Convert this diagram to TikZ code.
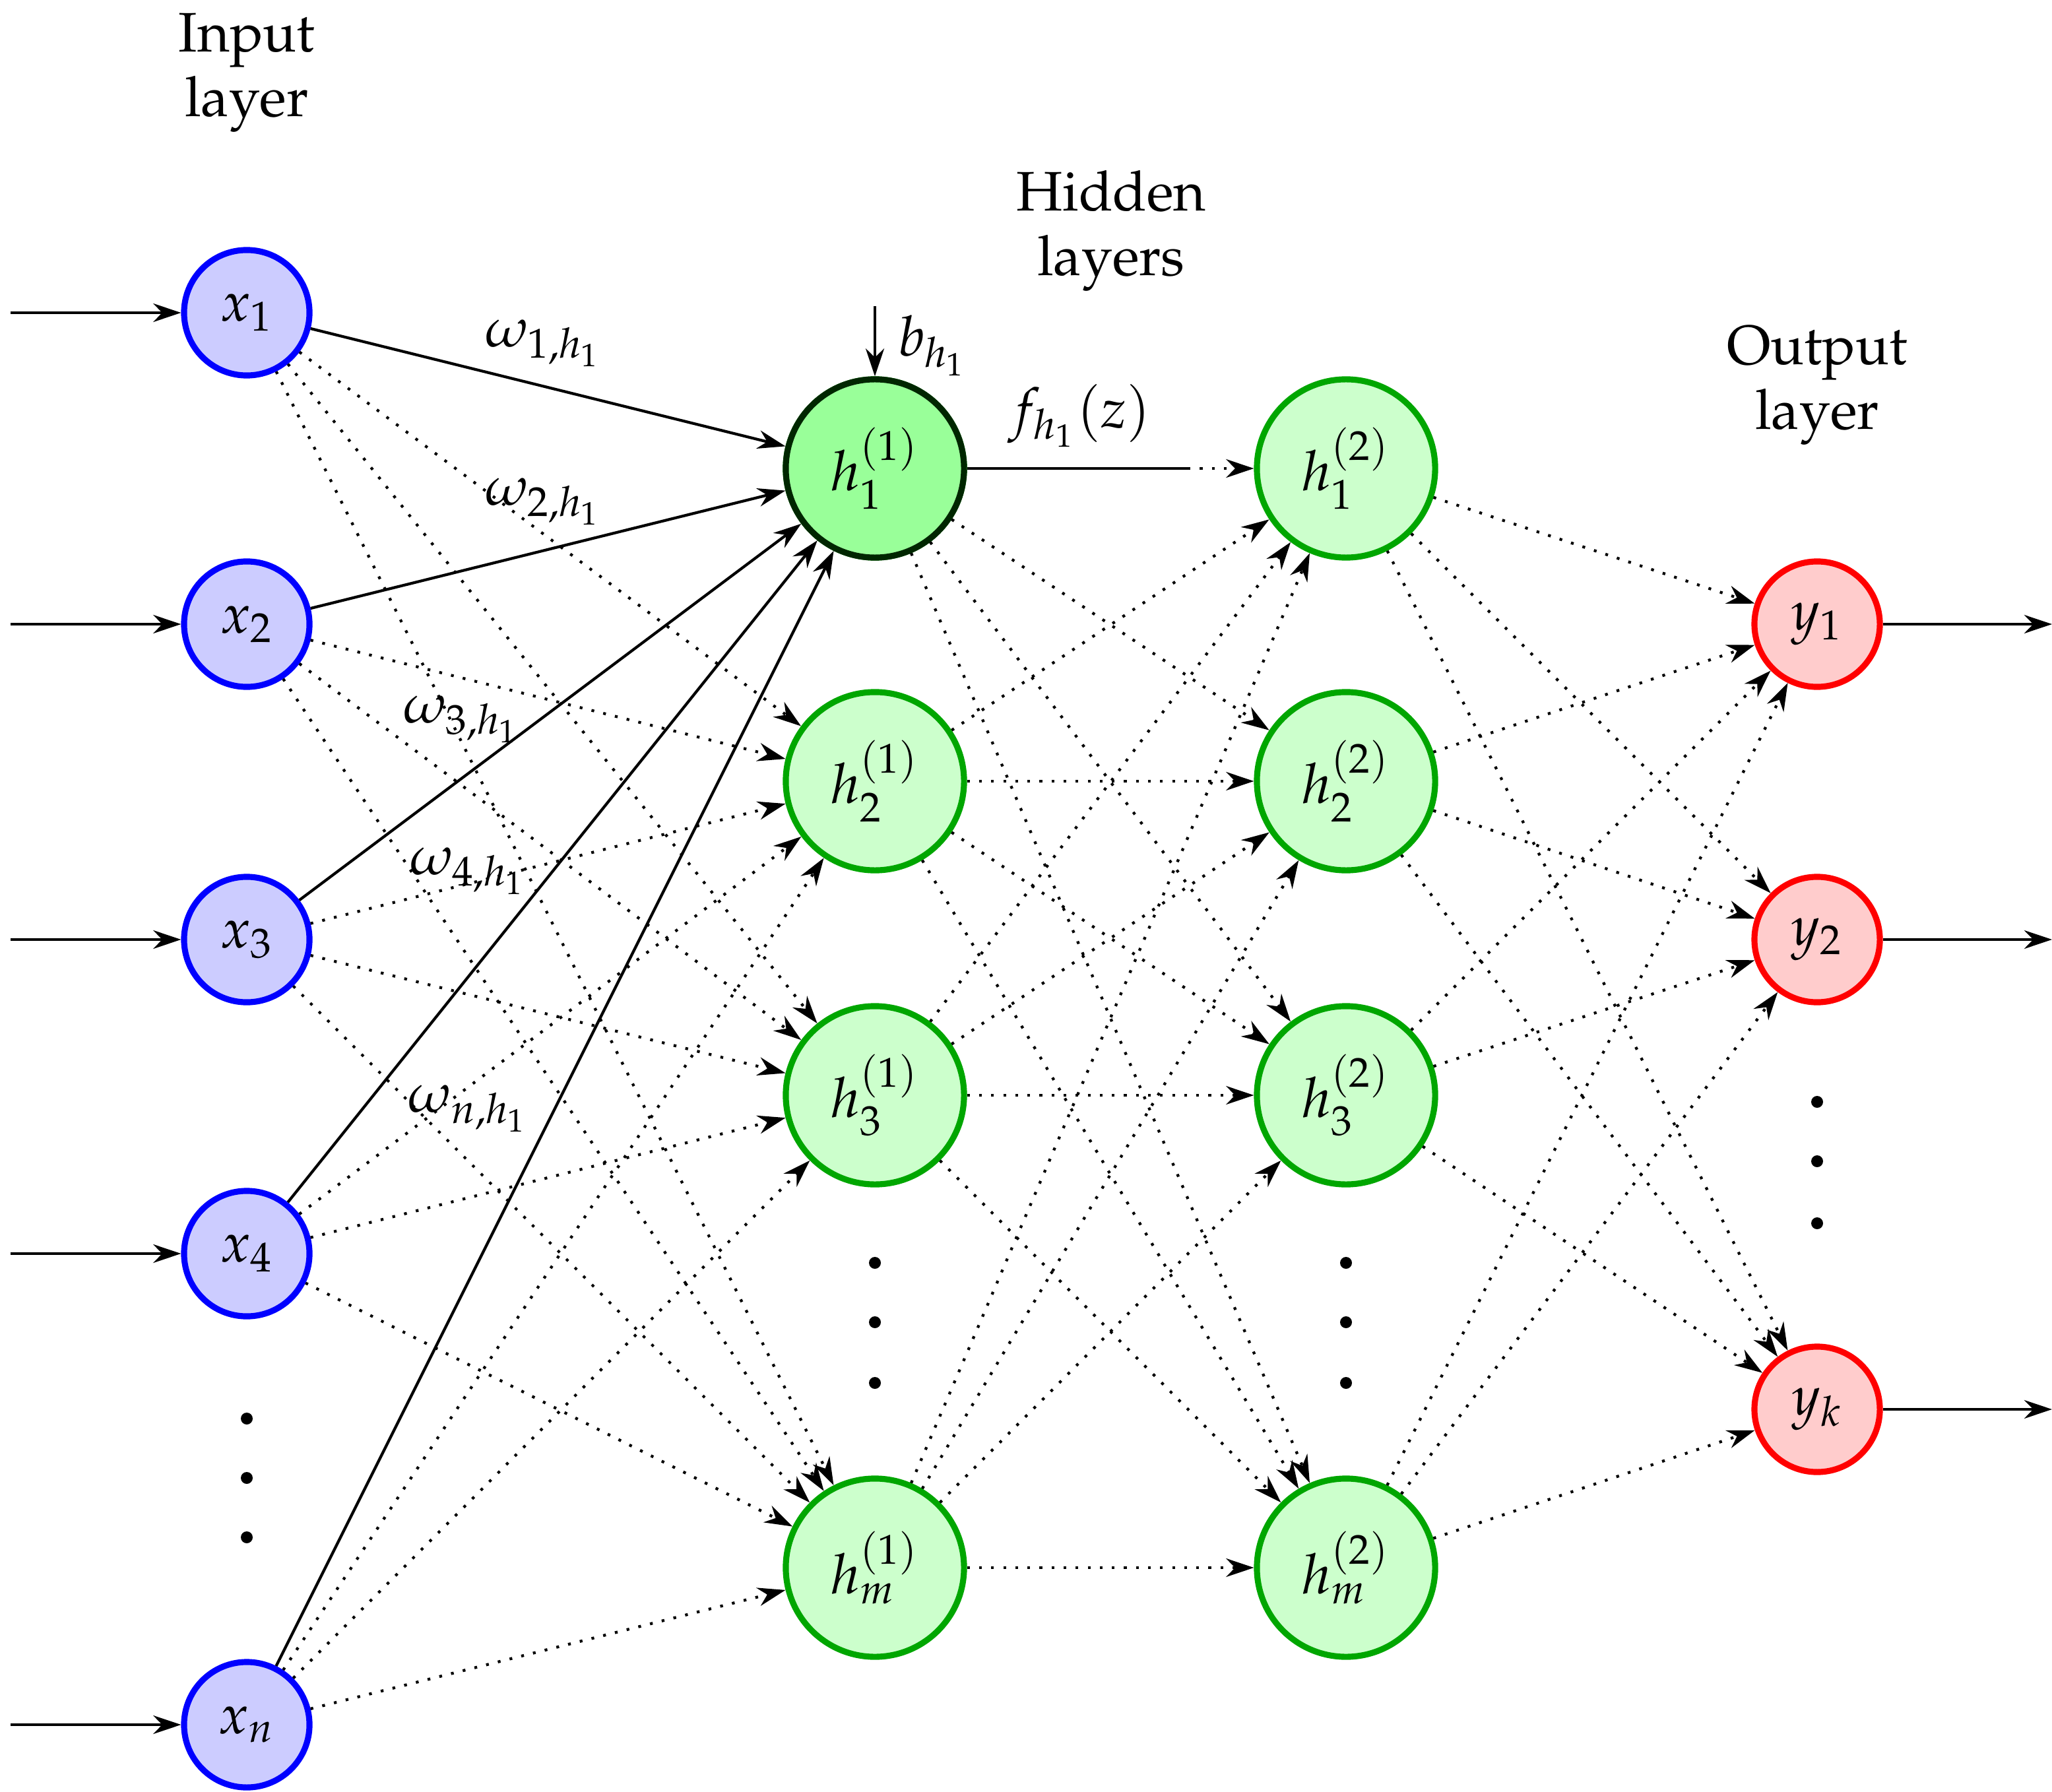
\documentclass[tikz,border=0pt]{standalone}
\usepackage[T1]{fontenc}
\usepackage{mathpazo}
\usetikzlibrary{arrows.meta}
\tikzset{
	neuron/.style={circle,line width=1.3pt,inner sep=0pt,font=\large},
	inp/.style={neuron,draw=blue,fill=blue!20,minimum size=0.95cm},
	hid/.style={neuron,draw=green!65!black,fill=green!20,minimum size=1.35cm},
	outp/.style={neuron,draw=red,fill=red!20,minimum size=0.95cm},
	conn/.style={-{Stealth[length=6pt,width=4pt]},semithick},
	dconn/.style={conn,dotted},
	lbl/.style={align=center,font=\large}
}
\begin{document}
\begin{tikzpicture}[x=0.01cm,y=-0.01cm]
	\useasboundingbox (0,0) rectangle (1555,1358);
	% layer titles
		\node[lbl] (tin) at (187,55) {Input\\layer};
		\node[lbl] (thid) at (842,175) {Hidden\\layers};
		\node[lbl] (tout) at (1377,292) {Output\\layer};
	% input layer
		\foreach \n/\y/\t in {1/237/1,2/473/2,3/712/3,4/950/4,n/1307/n}{
			\node[inp] (x\n) at (187,\y) {$x_{\t}$};
			\coordinate (in\n) at (8,\y);
			\draw[conn] (in\n) -- (x\n);
		}
		\foreach \y in {1075,1120,1165} \fill (187,\y) circle (4.5);
	% hidden layers
		\foreach \n/\y/\t in {1/355/1,2/592/2,3/830/3,m/1188/m}{
			\node[hid] (ha\n) at (663,\y) {$h_{\t}^{(1)}$};
			\node[hid] (hb\n) at (1020,\y) {$h_{\t}^{(2)}$};
		}
		\node[hid,draw=black!85!green,fill=green!40] at (ha1) {$h_{1}^{(1)}$};
		\foreach \y in {957,1002,1048}{
			\fill (663,\y) circle (4.5);
			\fill (1020,\y) circle (4.5);
		}
	% output layer
		\foreach \n/\y/\t in {1/473/1,2/712/2,k/1068/k}{
			\node[outp] (y\n) at (1377,\y) {$y_{\t}$};
			\coordinate (out\n) at (1555,\y);
			\draw[conn] (y\n) -- (out\n);
		}
		\foreach \y in {835,880,927} \fill (1377,\y) circle (4.5);
	% input to first hidden layer
		\foreach \i in {1,2,3,4,n}{
			\draw[conn] (x\i) -- (ha1);
			\foreach \j in {2,3,m} \draw[dconn] (x\i) -- (ha\j);
		}
		\node[font=\large] (w1) at (412,260) {$\omega_{1,h_1}$};
		\node[font=\large] (w2) at (412,380) {$\omega_{2,h_1}$};
		\node[font=\large] (w3) at (350,545) {$\omega_{3,h_1}$};
		\node[font=\large] (w4) at (355,660) {$\omega_{4,h_1}$};
		\node[font=\large] (wn) at (355,840) {$\omega_{n,h_1}$};
	% bias and activation
		\coordinate (bias) at (663,232);
		\draw[conn] (bias) -- (ha1);
		\node[font=\large] (b1) at (707,262) {$b_{h_1}$};
		\node[font=\large] (f1) at (818,315) {$f_{h_1}(z)$};
		\coordinate (fend) at (900,355);
		\draw[semithick] (ha1) -- (fend);
		\draw[dconn] (fend) -- (hb1);
	% first to second hidden layer
		\foreach \i in {1,2,3,m}{
			\foreach \j in {1,2,3,m}{
				\ifx\i\j\else\draw[dconn] (ha\i) -- (hb\j);\fi
			}
		}
		\foreach \i in {2,3,m} \draw[dconn] (ha\i) -- (hb\i);
	% second hidden layer to output
		\foreach \i in {1,2,3,m}
			\foreach \j in {1,2,k} \draw[dconn] (hb\i) -- (y\j);
\end{tikzpicture}
\end{document}
